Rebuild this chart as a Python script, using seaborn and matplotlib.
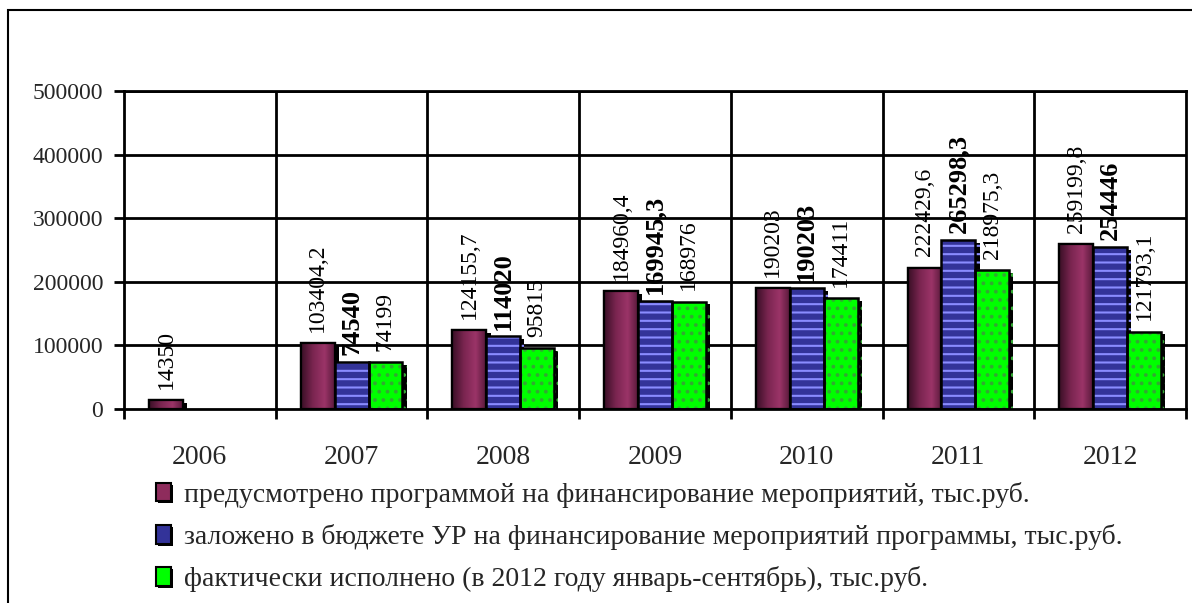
import numpy as np
import pandas as pd
import matplotlib
matplotlib.use("Agg")
import matplotlib.pyplot as plt
import matplotlib.patheffects as pe
from matplotlib.patches import Rectangle, Patch
from matplotlib.colors import LinearSegmentedColormap
from matplotlib.ticker import FixedLocator
import seaborn as sns

# ---- data -------------------------------------------------------------
years = ["2006", "2007", "2008", "2009", "2010", "2011", "2012"]
series_names = [
    "предусмотрено программой на финансирование мероприятий, тыс.руб.",
    "заложено в бюджете УР на финансирование мероприятий программы, тыс.руб.",
    "фактически исполнено (в 2012 году январь-сентябрь), тыс.руб.",
]
planned = [14350, 103404.2, 124155.7, 184960.4, 190203, 222429.6, 259199.8]
budgeted = [np.nan, 74540, 114020, 169945.3, 190203, 265298.3, 254446]
executed = [np.nan, 74199, 95815, 168976, 174411, 218975.3, 121793.1]
y_ticks = [0, 100000, 200000, 300000, 400000, 500000]

values = [planned, budgeted, executed]

rows = []
for name, vals in zip(series_names, values):
    for yr, v in zip(years, vals):
        rows.append({"year": yr, "series": name, "value": v})
df = pd.DataFrame(rows).dropna()

# ---- style ------------------------------------------------------------
sns.set_theme(style="white")
plt.rcParams["font.family"] = ["Liberation Serif", "DejaVu Serif"]
plt.rcParams["hatch.linewidth"] = 1.5

fill_colors = ["#8e2c5c", "#333399", "#00ff00"]
hatch_colors = [None, "#8a8cff", "#33a833"]
hatches = [None, "--", ".."]

fig = plt.figure(figsize=(11.92, 6.03), dpi=100)
ax = fig.add_axes([124 / 1192, 1 - 409 / 603, (1186 - 124) / 1192, (409 - 91) / 603])

sns.barplot(data=df, x="year", y="value", hue="series", order=years,
            hue_order=series_names, palette=fill_colors, width=0.67,
            errorbar=None, legend=False, ax=ax, saturation=1)

ax.set_ylim(0, 500000)
ax.set_xlim(-0.5, len(years) - 0.5)
ax.set_xlabel("")
ax.set_ylabel("")

# grid: horizontal at y ticks, vertical at category boundaries
ax.set_yticks(y_ticks)
ax.set_yticklabels([str(t) for t in y_ticks], fontsize=17)
ax.xaxis.set_minor_locator(FixedLocator(np.arange(-0.5, len(years), 1.0)))
ax.tick_params(axis="x", which="major", length=0, pad=26, labelsize=20)
ax.tick_params(axis="x", which="minor", length=7, width=2, color="black",
               direction="out", bottom=True)
ax.tick_params(axis="y", length=7, width=2, color="black", direction="out",
               left=True, pad=8)
ax.grid(False)
for t in y_ticks[1:]:
    ax.axhline(t, color="black", lw=2, zorder=0.5)
for b in np.arange(0.5, len(years) - 0.5, 1.0):
    ax.axvline(b, color="black", lw=2, zorder=0.5)
for s in ax.spines.values():
    s.set_color("black")
    s.set_linewidth(2)

grad_cmap = LinearSegmentedColormap.from_list(
    "plum", [(0.0, "#3a0f26"), (0.35, "#7a2550"), (0.7, "#9b3468"), (1.0, "#5a1a3c")])
grad = np.linspace(0, 1, 64).reshape(1, -1)

shadow = [pe.SimplePatchShadow(offset=(3, -2), shadow_rgbFace="black", alpha=1.0), pe.Normal()]

for si, cont in enumerate(ax.containers):
    for bar in cont:
        x0, w, h = bar.get_x(), bar.get_width(), bar.get_height()
        idx = int(round(x0 + w / 2))
        bar.set_zorder(2)
        bar.set_path_effects(shadow)
        if si == 0:
            bar.set_edgecolor("black")
            bar.set_linewidth(1.6)
            im = ax.imshow(grad, cmap=grad_cmap, aspect="auto",
                           extent=(x0, x0 + w, 0, h), zorder=2.1, interpolation="bicubic")
            im.set_clip_path(bar)
            ax.add_patch(Rectangle((x0, 0), w, h, fill=False, edgecolor="black",
                                   lw=1.6, zorder=2.2))
        else:
            bar.set_hatch(hatches[si])
            bar.set_edgecolor(hatch_colors[si])
            bar.set_linewidth(0)
            ax.add_patch(Rectangle((x0, 0), w, h, fill=False, edgecolor="black",
                                   lw=1.8, zorder=2.2))
        v = values[si][idx]
        txt = str(int(v)) if float(v).is_integer() else str(v).replace(".", ",")
        bold = si == 1
        ax.annotate(txt, (x0 + w / 2, h), xytext=(0, 5 if bold else 8),
                    textcoords="offset points", rotation=90, ha="center",
                    va="bottom", fontsize=19 if bold else 17,
                    fontweight="bold" if bold else "normal", color="black",
                    zorder=5)

ax.set_xticks(range(len(years)))
ax.set_xticklabels(years)

# legend
handles = [
    Patch(facecolor=fill_colors[0], edgecolor="black", lw=1.5),
    Patch(facecolor=fill_colors[1], edgecolor="black", lw=1.5),
    Patch(facecolor=fill_colors[2], edgecolor="black", lw=1.5),
]
leg = fig.legend(handles, series_names, loc="upper left",
                 bbox_to_anchor=(142 / 1192, 1 - 468 / 603), frameon=False,
                 fontsize=20, handlelength=0.55, handleheight=0.65,
                 handletextpad=0.45, labelspacing=0.58, borderpad=0)
for h in leg.legend_handles:
    h.set_path_effects([pe.SimplePatchShadow(offset=(1.5, -1.5), shadow_rgbFace="black", alpha=1.0), pe.Normal()])

# outer frame
fig.patches.append(Rectangle((8 / 1192, -0.05), 1.1, 1.05 - 10 / 603, transform=fig.transFigure,
                             fill=False, edgecolor="black", lw=1.5, zorder=0))

fig.savefig("out.png", dpi=100)
